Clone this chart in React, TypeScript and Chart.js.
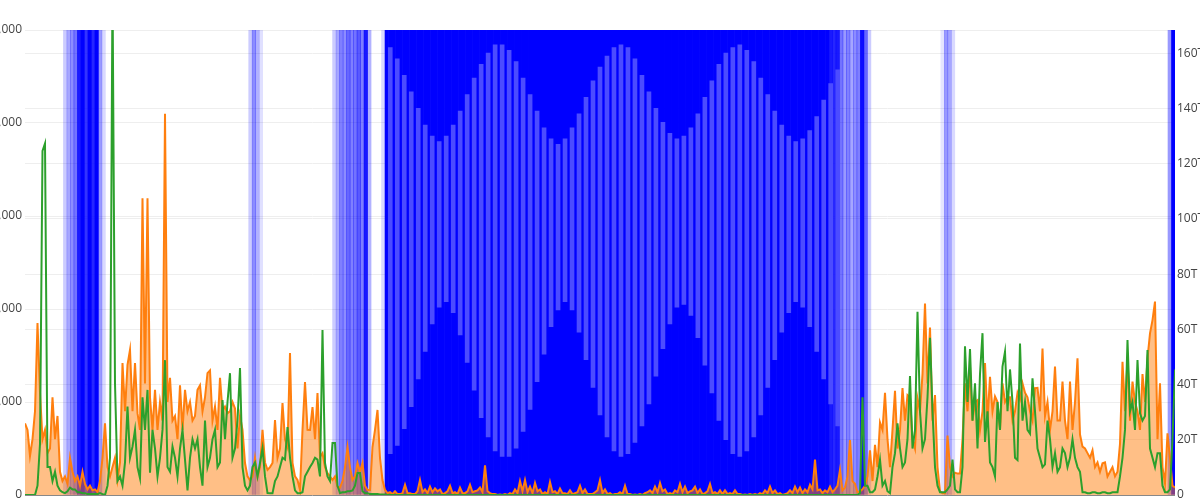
import React, { useEffect, useRef } from 'react';
import { Chart, registerables } from 'chart.js';

Chart.register(...registerables);

// Orange series (left axis), evenly spaced samples across the time range
const orangeValues = [
  770, 700, 420, 600, 900, 1850, 1100, 600, 700, 450,
  500, 1050, 600, 850, 250, 150, 200, 120, 400, 250,
  150, 200, 100, 250, 120, 60, 100, 50, 60, 30,
  150, 400, 770, 300, 200, 300, 400, 160, 350, 1420,
  900, 1400, 1560, 900, 1420, 880, 700, 3190, 1200, 3190,
  1050, 700, 1130, 700, 1000, 800, 4100, 1000, 1260, 800,
  850, 600, 1180, 700, 1130, 900, 1000, 800, 850, 1130,
  1180, 900, 1050, 1310, 1340, 800, 950, 700, 1260, 900,
  950, 880, 900, 1000, 930, 500, 850, 700, 344, 200,
  160, 200, 400, 194, 300, 700, 350, 270, 300, 344,
  806, 400, 500, 989, 600, 516, 1527, 344, 200, 161,
  54, 700, 1215, 700, 699, 946, 600, 1097, 409, 450,
  300, 236, 200, 161, 200, 86, 80, 150, 300, 516,
  300, 161, 200, 344, 250, 344, 100, 54, 54, 516,
  700, 914, 400, 161, 54,
  20, 30, 10, 40, 10, 10, 20, 110, 20, 20,
  10, 10, 40, 160, 30, 60, 20, 90, 30, 70,
  40, 60, 10, 20, 40, 100, 20, 30, 10, 80,
  20, 20, 40, 110, 30, 40, 50, 80, 30, 320,
  40, 20, 10, 10, 0, 5, 0, 10, 0, 20,
  10, 60, 20, 150, 40, 160, 30, 90, 20, 130,
  40, 60, 10, 30, 10, 140, 30, 40, 10, 70,
  20, 20, 10, 50, 10, 20, 30, 100, 20, 60,
  10, 10, 10, 30, 50, 160, 20, 60, 10, 20,
  0, 10, 10, 30, 10, 100, 10, 10, 0, 5,
  0, 10, 0, 20, 30, 50, 20, 90, 30, 130,
  40, 60, 10, 20, 10, 50, 30, 120, 30, 90,
  20, 40, 50, 90, 20, 60, 10, 20, 40, 120,
  20, 30, 10, 50, 10, 50, 10, 20, 10, 50,
  10, 10, 0, 5, 0, 10, 0, 10, 0, 20,
  10, 50, 20, 90, 20, 50, 10, 20, 0, 10,
  20, 50, 20, 90, 30, 80, 20, 60, 30, 110,
  60, 380, 50, 60, 20, 50, 30, 90, 30, 60,
  100, 270, 50, 80, 200, 590, 150, 120, 30, 40,
  60, 100, 200, 480, 150, 540, 300, 780, 700, 1100,
  600, 300, 700, 1120, 500, 700, 1150, 800, 1075, 1050,
  600, 500, 1040, 900, 1300, 2060, 1200, 1800, 800, 1075,
  300, 40, 20, 20, 640, 300, 200, 240, 230, 230,
  600, 1200, 900, 1380, 800, 1000, 1020, 700, 900, 1420,
  800, 1270, 900, 1060, 1000, 700, 1200, 1000, 1050, 1050,
  800, 900, 1100, 1030, 1200, 1100, 1050, 900, 800, 1150,
  1153, 900, 1576, 850, 1000, 700, 900, 1380, 800, 800,
  1219, 800, 600, 1219, 700, 1000, 1469, 650, 520, 500,
  450, 400, 480, 300, 350, 250, 340, 350, 200, 250,
  300, 200, 250, 550, 1433, 900, 1469, 800, 1219, 1000,
  900, 700, 1300, 1000, 1469, 1738, 1881, 2080, 600, 1200,
  300, 125, 663, 400, 100, 80,
];

// Green series (left axis)
const greenValues = [
  0, 0, 0, 0, 0, 100, 550, 3700, 3780, 300,
  300, 150, 250, 100, 50, 30, 20, 40, 80, 60,
  60, 30, 30, 20, 20, 10, 10, 10, 10, 10,
  20, 10, 0, 100, 400, 5500, 1200, 150, 200, 100,
  350, 950, 400, 520, 700, 300, 180, 1050, 700, 1130,
  240, 700, 500, 200, 400, 700, 1450, 300, 250, 520,
  400, 200, 500, 700, 380, 50, 400, 600, 500, 600,
  300, 100, 800, 300, 400, 600, 700, 300, 350, 1020,
  600, 1000, 1310, 400, 500, 800, 1365, 300, 100, 50,
  100, 300, 350, 200, 344, 500, 200, 21, 20, 20,
  150, 200, 300, 400, 380, 731, 400, 200, 50, 20,
  20, 30, 200, 250, 300, 344, 400, 380, 200, 1774,
  344, 200, 150, 559, 559, 100, 21, 30, 30, 40,
  40, 50, 100, 236, 236, 40, 20, 20, 10, 10,
  10, 10, 5, 5, 5,
  0, 0, 0, 0, 0, 0, 0, 0, 0, 0,
  0, 0, 0, 0, 0, 0, 0, 0, 0, 0,
  0, 0, 0, 0, 0, 0, 0, 0, 0, 0,
  0, 0, 0, 0, 0, 0, 0, 0, 0, 0,
  0, 0, 0, 0, 0, 0, 0, 0, 0, 0,
  0, 0, 0, 0, 0, 0, 0, 0, 0, 0,
  0, 0, 0, 0, 0, 0, 0, 0, 0, 0,
  0, 0, 0, 0, 0, 0, 0, 0, 0, 0,
  0, 0, 0, 0, 0, 0, 0, 0, 0, 0,
  0, 0, 0, 0, 0, 0, 0, 0, 0, 0,
  0, 0, 0, 0, 0, 0, 0, 0, 0, 0,
  0, 0, 0, 0, 0, 0, 0, 0, 0, 0,
  0, 0, 0, 0, 0, 0, 0, 0, 0, 0,
  0, 0, 0, 0, 0, 0, 0, 0, 0, 0,
  0, 0, 0, 0, 0, 0, 0, 0, 0, 0,
  0, 0, 0, 0, 0, 0, 0, 0, 0, 0,
  0, 0, 0, 0, 0, 0, 0, 0, 0, 0,
  0, 0, 0, 0, 0, 0, 0, 0, 0, 0,
  0, 0, 0, 0, 0, 0, 0, 0, 0, 20,
  1050, 100, 100, 30, 30, 60, 200, 380, 100, 150,
  40, 20, 300, 450, 770, 500, 300, 350, 600, 1280,
  500, 700, 1970, 900, 500, 600, 1050, 1690, 900, 300,
  100, 30, 30, 30, 60, 100, 380, 60, 30, 30,
  300, 1600, 1000, 1570, 800, 1200, 500, 1300, 1740, 570,
  900, 350, 300, 200, 1000, 700, 1380, 1540, 900, 1350,
  1000, 400, 376, 1630, 800, 1000, 700, 660, 1254, 900,
  500, 400, 300, 330, 800, 600, 300, 450, 250, 300,
  500, 450, 300, 400, 600, 400, 300, 250, 30, 30,
  20, 20, 30, 30, 20, 20, 30, 30, 20, 20,
  30, 30, 30, 200, 400, 700, 1666, 900, 1000, 700,
  1452, 878, 800, 850, 1559, 500, 400, 300, 450, 450,
  100, 30, 30, 60, 600, 1350,
];

// Blue series (right axis): columns that run off the top of the scale, with their shade
const blueShade = [
  0, 0, 0, 0, 0, 0, 0, 0, 0, 0,
  0, 0.2, 0.35, 0.45, 0.55, 0.9, 1, 0.8, 1, 0.85,
  1, 0.4, 0.15, 0, 0, 0, 0, 0, 0, 0,
  0, 0, 0, 0, 0, 0, 0, 0, 0, 0,
  0, 0, 0, 0, 0, 0, 0, 0, 0, 0,
  0, 0, 0, 0, 0, 0, 0, 0, 0, 0,
  0, 0, 0, 0, 0.2, 0.45, 0.3, 0.12, 0, 0,
  0, 0, 0, 0, 0, 0, 0, 0, 0, 0,
  0, 0, 0, 0, 0, 0, 0, 0, 0.2, 0.35,
  0.5, 0.45, 0.6, 0.5, 0.55, 0.65, 0.5, 0.9, 0.3, 0,
  0, 0, 0.15, 1, 1, 1, 1, 1, 1, 1,
  1, 1, 1, 1, 1, 1, 1, 1, 1, 1,
  1, 1, 1, 1, 1, 1, 1, 1, 1, 1,
  1, 1, 1, 1, 1, 1, 1, 1, 1, 1,
  1, 1, 1, 1, 1, 1, 1, 1, 1, 1,
  1, 1, 1, 1, 1, 1, 1, 1, 1, 1,
  1, 1, 1, 1, 1, 1, 1, 1, 1, 1,
  1, 1, 1, 1, 1, 1, 1, 1, 1, 1,
  1, 1, 1, 1, 1, 1, 1, 1, 1, 1,
  1, 1, 1, 1, 1, 1, 1, 1, 1, 1,
  1, 1, 1, 1, 1, 1, 1, 1, 1, 1,
  1, 1, 1, 1, 1, 1, 1, 1, 1, 1,
  1, 1, 1, 1, 1, 1, 1, 1, 1, 1,
  0.9, 0.85, 0.9, 0.55, 0.4, 0.5, 0.35, 0.45, 0.5, 0.95,
  0.6, 0.2, 0, 0, 0, 0, 0, 0, 0, 0,
  0, 0, 0, 0, 0, 0, 0, 0, 0, 0,
  0, 0, 0.1, 0.4, 0.35, 0.15, 0, 0, 0, 0,
  0, 0, 0, 0, 0, 0, 0, 0, 0, 0,
  0, 0, 0, 0, 0, 0, 0, 0, 0, 0,
  0, 0, 0, 0, 0, 0, 0, 0, 0, 0,
  0, 0, 0, 0, 0, 0, 0, 0, 0, 0,
  0, 0, 0, 0, 0, 0, 0, 0, 0, 0,
  0, 0, 0, 0, 0, 0, 0, 0.4, 1,
];

// Lighter bands inside the dense blue block (every other column from column 104), in T
const BAND_FIRST_COLUMN = 104;
const bandHigh = [
  162, 158, 152, 146, 140, 134, 130, 128, 130, 134, 139, 145, 151, 156, 160, 163, 163, 161,
  157, 151, 145, 139, 133, 129, 127, 129, 133, 138, 144, 150, 155, 159, 162, 163, 162,
  158, 152, 146, 140, 135, 131, 129, 130, 133, 138, 144, 150, 156, 160, 162, 163, 161,
  157, 151, 145, 139, 134, 130, 128, 129, 132, 137, 143, 149, 154,
];
const bandLow = [
  15, 18, 24, 32, 42, 52, 62, 68, 70, 66, 58, 48, 38, 28, 21, 16, 14, 14,
  17, 23, 31, 41, 51, 61, 67, 70, 67, 59, 49, 39, 29, 21, 16, 14, 15,
  19, 25, 33, 43, 53, 62, 68, 69, 65, 57, 47, 37, 27, 20, 15, 14,
  16, 21, 29, 39, 49, 59, 66, 70, 68, 61, 52, 42, 33, 25,
];

const BLUE_OFFSCALE = 250; // T, above the right axis range
const leftTicks = [0, 1000, 2000, 3000, 4000, 5000];
const rightTickLabels = ['0', '20T', '40T', '60T', '80T', '100T', '120T', '140T', '160T'];

export default function App() {
  const ref = useRef<HTMLCanvasElement | null>(null);

  useEffect(() => {
    if (!ref.current) return;
    Chart.defaults.font.family = '"Open Sans", sans-serif';
    Chart.defaults.font.size = 12;
    Chart.defaults.color = '#444';

    const columnLabels = blueShade.map((_, c) => String(c));
    const blueData = blueShade.map((s) => (s > 0 ? BLUE_OFFSCALE : null));
    const blueColors = blueShade.map((s) => `rgba(0,0,255,${s})`);
    const bandData: (number[] | null)[] = blueShade.map(() => null);
    bandHigh.forEach((h, k) => {
      bandData[BAND_FIRST_COLUMN + 2 * k] = [bandLow[k], h];
    });

    const chart = new Chart(ref.current, {
      type: 'line',
      data: {
        datasets: [
          {
            type: 'line',
            label: 'green',
            data: greenValues.map((v, i) => ({ x: i, y: v })),
            xAxisID: 'x',
            yAxisID: 'y',
            borderColor: '#2ca02c',
            borderWidth: 2,
            pointRadius: 0,
            fill: false,
            tension: 0,
            clip: 0,
            order: 0,
          } as any,
          {
            type: 'line',
            label: 'orange',
            data: orangeValues.map((v, i) => ({ x: i, y: v })),
            xAxisID: 'x',
            yAxisID: 'y',
            borderColor: '#ff7f0e',
            backgroundColor: 'rgba(255,127,14,0.5)',
            borderWidth: 2,
            pointRadius: 0,
            fill: 'origin',
            tension: 0,
            clip: 0,
            order: 1,
          } as any,
          {
            type: 'bar',
            label: 'bands',
            data: bandData,
            xAxisID: 'xb',
            yAxisID: 'y2',
            backgroundColor: '#4c4cff',
            borderWidth: 0,
            barThickness: 4,
            grouped: false,
            order: 2,
          } as any,
          {
            type: 'bar',
            label: 'blue',
            data: blueData,
            xAxisID: 'xb',
            yAxisID: 'y2',
            backgroundColor: blueColors,
            borderWidth: 0,
            barPercentage: 1,
            categoryPercentage: 1,
            grouped: false,
            order: 3,
          } as any,
        ],
      },
      options: {
        responsive: false,
        animation: false,
        events: [],
        layout: { padding: { top: 30, bottom: 45, left: 0, right: 0 } },
        plugins: { legend: { display: false }, tooltip: { enabled: false } },
        scales: {
          x: { type: 'linear', min: 0, max: orangeValues.length - 1, display: false },
          xb: {
            type: 'category',
            labels: columnLabels,
            offset: true,
            display: false,
            ticks: { autoSkip: false },
          },
          y: {
            type: 'linear',
            position: 'left',
            min: leftTicks[0],
            max: leftTicks[leftTicks.length - 1],
            afterBuildTicks: (s: any) => {
              s.ticks = leftTicks.map((v) => ({ value: v }));
            },
            afterFit: (s: any) => {
              s.width = 85;
            },
            ticks: { padding: 3, color: '#444', font: { size: 12 } },
            grid: {
              drawTicks: false,
              color: (ctx: any) => (ctx.tick && ctx.tick.value === 0 ? '#888' : '#eeeeee'),
              lineWidth: 1,
            },
            border: { display: false },
          },
          y2: {
            type: 'linear',
            position: 'right',
            min: 0,
            max: 168.4,
            afterBuildTicks: (s: any) => {
              s.ticks = rightTickLabels.map((_, i) => ({ value: i * 20 }));
            },
            afterFit: (s: any) => {
              s.width = 65;
            },
            ticks: {
              padding: 2,
              color: '#444',
              font: { size: 12 },
              callback: (_v: any, i: number) => rightTickLabels[i],
            },
            grid: {
              drawTicks: false,
              color: (ctx: any) => (ctx.tick && ctx.tick.value === 0 ? 'rgba(0,0,0,0)' : '#eeeeee'),
              lineWidth: 1,
            },
            border: { display: false },
          },
        },
      } as any,
    });
    return () => chart.destroy();
  }, []);

  return (
    <div style={{ position: 'fixed', left: -60, top: 0, width: 1300, height: 540, background: '#fff' }}>
      <canvas ref={ref} width={1300} height={540} style={{ display: 'block', width: 1300, height: 540 }} />
    </div>
  );
}
